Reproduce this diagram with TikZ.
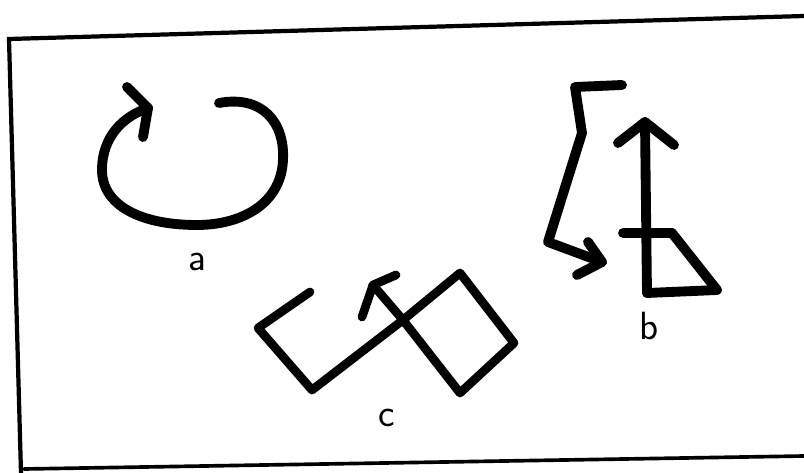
\documentclass[tikz,border=0pt]{standalone}
\usetikzlibrary{arrows.meta}
\definecolor{cInk}{HTML}{000000}
\tikzset{
    x=0.025cm, y=-0.025cm,
    frame/.style={draw=cInk, line width=3pt, line cap=round},
    stroke/.style={draw=cInk, line width=7pt, line cap=round, line join=round},
    thin stroke/.style={stroke, line width=6.2pt},
    lbl/.style={font=\sffamily\fontsize{28}{30}\selectfont, inner sep=0pt},
}
\begin{document}
\begin{tikzpicture}
    \useasboundingbox (0,0) rectangle (804,473);

    % frame
    \draw[frame] (804,16) -- (9,39) -- (21,473);
    \draw[frame, line width=2.6pt] (24,469) -- (804,456);

    % a
    \draw[stroke] (219,103) .. controls (262,95) and (285,122) .. (283,160)
        .. controls (281,205) and (240,225) .. (197,225)
        .. controls (140,225) and (102,205) .. (102,170)
        .. controls (102,136) and (124,116) .. (148,108);
    \draw[stroke] (127,87) -- (148,108) -- (143,137);
    \node[lbl] (la) at (197,262) {a};

    % b
    \draw[stroke] (622,85) -- (575,87) -- (582,133) -- (548,242) -- (602,262);
    \draw[stroke] (588,242) -- (602,262) -- (577,275);
    \draw[stroke] (647,293) -- (645,122);
    \draw[stroke] (618,143) -- (645,122) -- (674,145);
    \draw[stroke] (623,233) -- (672,233) -- (717,290) -- (647,293);
    \node[lbl] (lb) at (649,326) {b};

    % c
    \draw[thin stroke] (310,292) -- (258,328) -- (312,390) -- (403,320)
        -- (460,273) -- (514,343) -- (460,393) -- (403,320) -- (373,285);
    \draw[thin stroke] (362,317) -- (373,285) -- (396,275);
    \node[lbl] (lc) at (387,418) {c};
\end{tikzpicture}
\end{document}
